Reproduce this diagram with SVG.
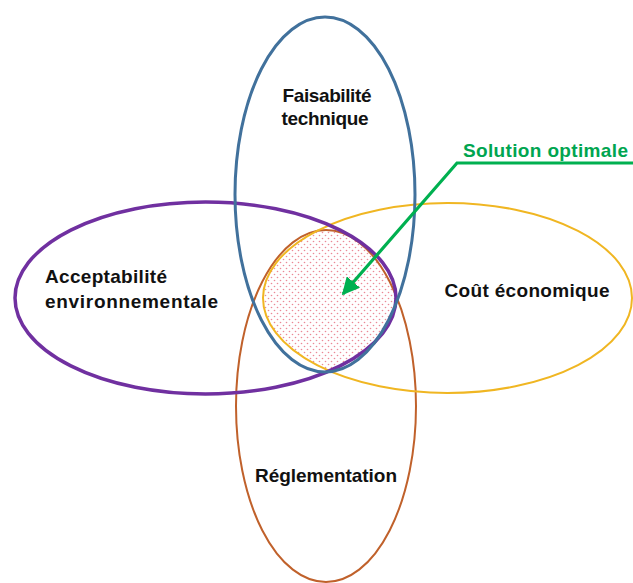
<svg xmlns="http://www.w3.org/2000/svg" width="633" height="583" viewBox="0 0 633 583">
<style>
.lbl{font-family:"Liberation Sans",Arial,sans-serif;font-weight:bold;font-size:19px;fill:#111}
.ell{fill:none}
</style>
<defs>
<pattern id="dots" width="6" height="6" patternUnits="userSpaceOnUse">
<circle cx="1.5" cy="1.5" r="0.8" fill="#e04a5e" fill-opacity="0.65"/>
<circle cx="4.5" cy="4.5" r="0.8" fill="#e04a5e" fill-opacity="0.65"/>
</pattern>
<clipPath id="cBlue"><ellipse cx="325" cy="194.5" rx="90" ry="177.5"/></clipPath>
<clipPath id="cPurple" clip-path="url(#cBlue)"><ellipse cx="205.5" cy="298" rx="190.5" ry="96"/></clipPath>
<clipPath id="cYellow" clip-path="url(#cPurple)"><ellipse cx="447.5" cy="298" rx="184.5" ry="95"/></clipPath>
<clipPath id="cAll" clip-path="url(#cYellow)"><ellipse cx="326" cy="406" rx="90" ry="176"/></clipPath>
<marker id="ah" viewBox="0 0 10 10" refX="9" refY="5" markerWidth="5.5" markerHeight="5.5" orient="auto" markerUnits="strokeWidth">
<path d="M0,0 L10,5 L0,10 z" fill="#00b050"/>
</marker>
</defs>
<rect width="633" height="583" fill="#fff"/>
<g id="solution-zone">
<rect x="0" y="0" width="633" height="583" fill="url(#dots)" clip-path="url(#cAll)"/>
</g>
<g id="reglementation">
<ellipse class="ell" cx="326" cy="406" rx="90" ry="176" stroke="#c0612b" stroke-width="2"/>
<text class="lbl" x="326" y="482" text-anchor="middle" textLength="142">Réglementation</text>
</g>
<g id="cout">
<ellipse class="ell" cx="447.5" cy="298" rx="184.5" ry="95" stroke="#f0b622" stroke-width="2"/>
<text class="lbl" x="527" y="297" text-anchor="middle" textLength="165">Coût économique</text>
</g>
<g id="acceptabilite">
<ellipse class="ell" cx="205.5" cy="298" rx="190.5" ry="96" stroke="#7030a0" stroke-width="3.5"/>
<text class="lbl" x="45" y="283" textLength="122">Acceptabilité</text>
<text class="lbl" x="45" y="308" textLength="173">environnementale</text>
</g>
<g id="faisabilite">
<ellipse class="ell" cx="325" cy="194.5" rx="90" ry="177.5" stroke="#41719c" stroke-width="3"/>
<text class="lbl" x="327" y="102" text-anchor="middle" textLength="89">Faisabilité</text>
<text class="lbl" x="325" y="125" text-anchor="middle" textLength="87">technique</text>
</g>
<g id="connectors">
<polyline points="633,163 457,163 343,294" fill="none" stroke="#00b050" stroke-width="3.2" marker-end="url(#ah)"/>
</g>
<g id="solution-label">
<text class="lbl" x="463" y="157" textLength="165" style="fill:#00a550">Solution optimale</text>
</g>
</svg>
